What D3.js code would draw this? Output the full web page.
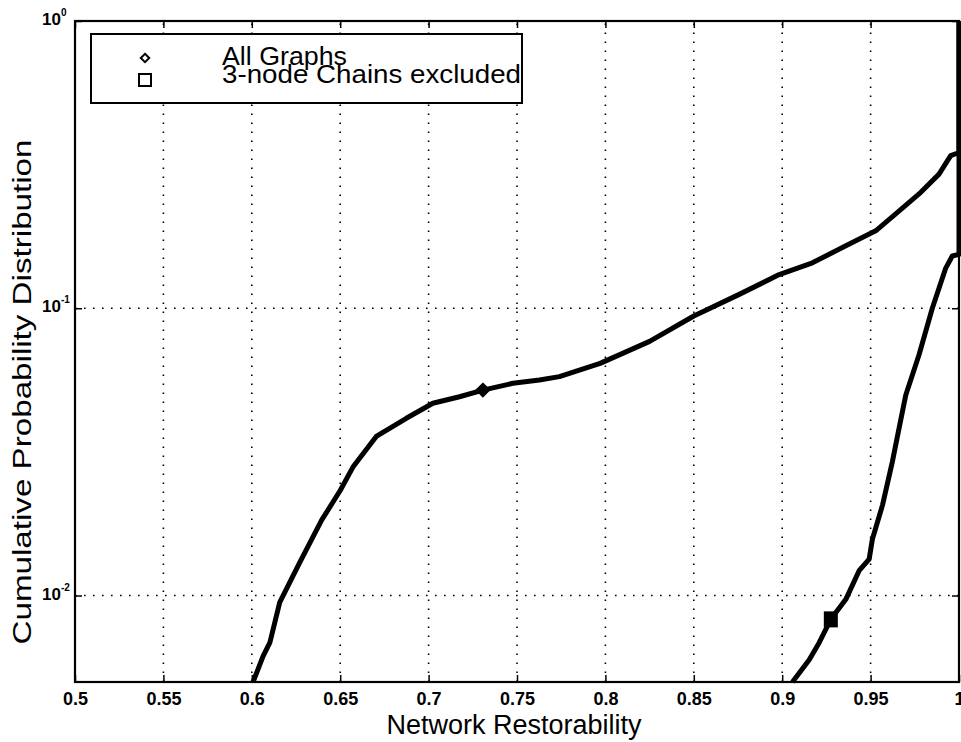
<!DOCTYPE html>
<html>
<head>
<meta charset="utf-8">
<script src="https://cdn.jsdelivr.net/npm/d3@7"></script>
<style>
  body { margin: 0; background: #fff; }
  text { font-family: "Liberation Sans", Arial, sans-serif; fill: #000; }
</style>
</head>
<body>
<svg id="chart" width="961" height="742"></svg>
<script>
// curve: all graphs
var xAll = [0.6007, 0.6064, 0.6102, 0.6158, 0.627, 0.6395, 0.650, 0.6572, 0.6704, 0.6874,
            0.7024, 0.7175, 0.7307, 0.7477, 0.7627, 0.774, 0.797, 0.825, 0.850, 0.876,
            0.8983, 0.9171, 0.936, 0.9529, 0.9642, 0.9774, 0.9887, 0.9953, 0.9981, 1.0, 1.0];
var yAll = [0.005, 0.00615, 0.00685, 0.00946, 0.013, 0.0183, 0.0232, 0.0280, 0.0358, 0.0414,
            0.0467, 0.0492, 0.0519, 0.0548, 0.0563, 0.0578, 0.0643, 0.0767, 0.094, 0.112,
            0.131, 0.144, 0.165, 0.186, 0.213, 0.250, 0.293, 0.340, 0.345, 0.345, 1.0];
// curve: 3-node chains excluded
var xChain = [0.9058, 0.9153, 0.9209, 0.9275, 0.936, 0.9435, 0.9492, 0.951, 0.9567, 0.9623,
              0.9661, 0.9699, 0.9774, 0.9849, 0.9925, 0.9962, 1.0, 1.0];
var yChain = [0.005, 0.00598, 0.00685, 0.00826, 0.0097, 0.0122, 0.0134, 0.0157, 0.0206, 0.0292,
              0.0382, 0.0499, 0.0689, 0.100, 0.138, 0.152, 0.154, 1.0];
var markAll = [0.7307, 0.0519];
var markChain = [0.9275, 0.00826];
var xTicks = [0.5, 0.55, 0.6, 0.65, 0.7, 0.75, 0.8, 0.85, 0.9, 0.95, 1];
var yTicks = [1, 0.1, 0.01];
var yExp = ["0", "-1", "-2"];
var legendNames = ["All Graphs", "3-node Chains excluded"];

(function() {
var svg = d3.select("#chart");
var mLeft = 75, mRight = 959, mTop = 21, mBottom = 682;

var x = d3.scaleLinear().domain([0.5, 1]).range([mLeft, mRight]);
var y = d3.scaleLog().domain([0.005, 1]).range([mBottom, mTop]);

// grid
var grid = svg.append("g").attr("class", "grid")
    .attr("stroke", "#000").attr("stroke-width", 1.6)
    .attr("stroke-dasharray", "1.6,7.4");
grid.selectAll("line.gx").data(xTicks.slice(1, -1)).enter().append("line")
    .attr("x1", x).attr("x2", x).attr("y1", mBottom).attr("y2", mTop);
grid.selectAll("line.gy").data(yTicks.slice(1)).enter().append("line")
    .attr("y1", y).attr("y2", y).attr("x1", mLeft).attr("x2", mRight);

// axes, ticks pointing inward
var xAxis = d3.axisBottom(x).tickValues(xTicks).tickSizeInner(-7).tickSizeOuter(0)
    .tickPadding(7).tickFormat(function(d) { return d3.format("")(d); });
var gx = svg.append("g").attr("transform", "translate(0," + mBottom + ")").call(xAxis);
gx.select(".domain").remove();
gx.selectAll(".tick line").attr("stroke", "#000").attr("stroke-width", 1.5);
gx.selectAll(".tick text").attr("font-size", 18).attr("font-weight", "bold")
    .attr("font-family", "'Liberation Sans', Arial, sans-serif").attr("dy", "0.9em");

var xTopAxis = d3.axisTop(x).tickValues(xTicks).tickSizeInner(-7).tickSizeOuter(0).tickFormat("");
var gxt = svg.append("g").attr("transform", "translate(0," + mTop + ")").call(xTopAxis);
gxt.select(".domain").remove();
gxt.selectAll(".tick line").attr("stroke", "#000").attr("stroke-width", 1.5);

var yAxis = d3.axisLeft(y).tickValues(yTicks).tickSizeInner(-7).tickSizeOuter(0).tickFormat("");
var gy = svg.append("g").attr("transform", "translate(" + mLeft + ",0)").call(yAxis);
gy.select(".domain").remove();
gy.selectAll(".tick line").attr("stroke", "#000").attr("stroke-width", 1.5);
var yRightAxis = d3.axisRight(y).tickValues(yTicks).tickSizeInner(-7).tickSizeOuter(0).tickFormat("");
var gyr = svg.append("g").attr("transform", "translate(" + mRight + ",0)").call(yRightAxis);
gyr.select(".domain").remove();
gyr.selectAll(".tick line").attr("stroke", "#000").attr("stroke-width", 1.5);

// y tick labels 10^n
var yl = svg.append("g").selectAll("text").data(yTicks).enter().append("text")
    .attr("x", 42).attr("y", function(d) { return Math.max(y(d) + 4, 24); })
    .attr("font-size", 17).attr("font-weight", "bold");
yl.append("tspan").text("10");
yl.append("tspan").attr("font-size", 10).attr("dy", -9)
    .text(function(d, i) { return yExp[i]; });

// frame
svg.append("rect").attr("x", mLeft).attr("y", mTop)
    .attr("width", mRight - mLeft).attr("height", mBottom - mTop)
    .attr("fill", "none").attr("stroke", "#000").attr("stroke-width", 2.2);

// curves
var line = d3.line().x(function(d) { return x(d[0]); }).y(function(d) { return y(d[1]); });
var curves = [d3.zip(xAll, yAll), d3.zip(xChain, yChain)];
svg.append("g").selectAll("path").data(curves).enter().append("path")
    .attr("d", line).attr("fill", "none").attr("stroke", "#000")
    .attr("stroke-width", 5).attr("stroke-linejoin", "round");

// markers
svg.append("path").attr("d", d3.symbol(d3.symbolDiamond2, 100)())
    .attr("transform", "translate(" + x(markAll[0]) + "," + y(markAll[1]) + ")")
    .attr("fill", "#000").attr("stroke", "#000").attr("stroke-width", 2);
svg.append("rect")
    .attr("x", x(markChain[0]) - 7).attr("y", y(markChain[1]) - 8)
    .attr("width", 14).attr("height", 16).attr("fill", "#000");

// legend
var leg = svg.append("g");
leg.append("rect").attr("x", 91).attr("y", 34).attr("width", 431).attr("height", 69)
    .attr("fill", "#fff").attr("stroke", "#000").attr("stroke-width", 2);
leg.append("path").attr("d", d3.symbol(d3.symbolDiamond2, 45)())
    .attr("transform", "translate(145,58)")
    .attr("fill", "none").attr("stroke", "#000").attr("stroke-width", 2);
leg.append("rect").attr("x", 139).attr("y", 74).attr("width", 12).attr("height", 12)
    .attr("fill", "none").attr("stroke", "#000").attr("stroke-width", 2);
var legW = [125, 299];
leg.selectAll("text").data(legendNames).enter().append("text")
    .attr("x", 222).attr("y", function(d, i) { return 65 + i * 18; })
    .attr("font-size", 26)
    .attr("textLength", function(d, i) { return legW[i]; })
    .attr("lengthAdjust", "spacingAndGlyphs")
    .text(function(d) { return d; });

// axis labels
svg.append("text").attr("x", 514).attr("y", 734).attr("text-anchor", "middle")
    .attr("font-size", 27).text("Network Restorability");
svg.append("text").attr("transform", "translate(31,392) rotate(-90)")
    .attr("text-anchor", "middle").attr("font-size", 26)
    .attr("textLength", 505).attr("lengthAdjust", "spacingAndGlyphs")
    .text("Cumulative Probability Distribution");
})();
</script>
</body>
</html>
